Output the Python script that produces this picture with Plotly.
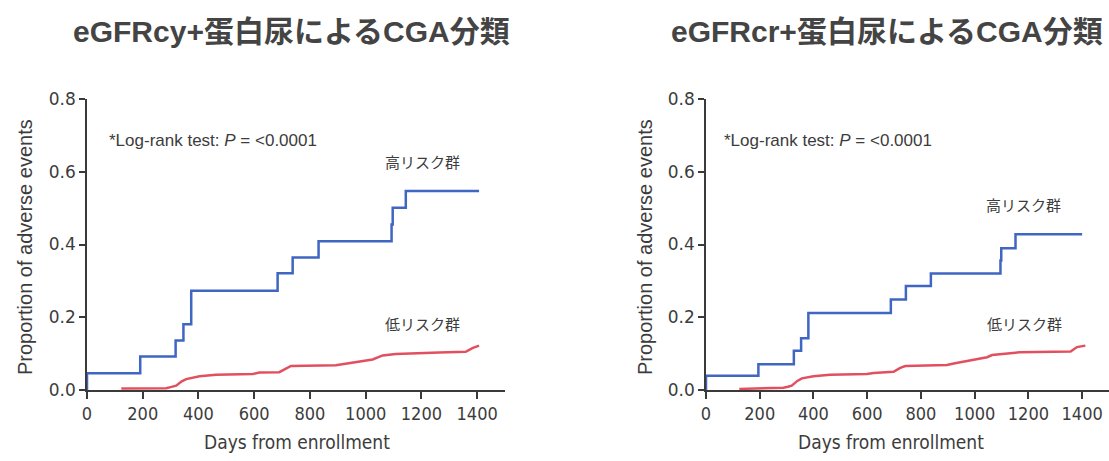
import plotly.graph_objects as go

W, H = 1109, 461

titles = ["eGFRcy+蛋白尿によるCGA分類", "eGFRcr+蛋白尿によるCGA分類"]
high_label = "高リスク群"
low_label = "低リスク群"
pval_text = "*Log-rank test: <i>P</i> = <0.0001"
x_title = "Days from enrollment"
y_title = "Proportion of adverse events"
x_ticks = [0, 200, 400, 600, 800, 1000, 1200, 1400]
y_ticks = [0.0, 0.2, 0.4, 0.6, 0.8]

# Left panel (eGFRcy)
cy_high_days = [0, 0, 191, 318, 346, 374, 684, 738, 831, 1093, 1097, 1144, 1407]
cy_high_vals = [0, 0.046, 0.092, 0.136, 0.181, 0.273, 0.321, 0.364, 0.409, 0.455, 0.501, 0.547, 0.547]
cy_low_days = [123, 284, 300, 320, 340, 356, 404, 463, 595, 619, 690, 714, 732, 893, 917, 977,
               1025, 1061, 1108, 1264, 1359, 1383, 1407]
cy_low_vals = [0.004, 0.005, 0.008, 0.012, 0.024, 0.030, 0.038, 0.042, 0.044, 0.048, 0.049, 0.058,
               0.066, 0.068, 0.071, 0.078, 0.084, 0.095, 0.099, 0.103, 0.105, 0.115, 0.122]

# Right panel (eGFRcr)
cr_high_days = [0, 0, 195, 327, 354, 381, 688, 744, 837, 1096, 1099, 1152, 1400]
cr_high_vals = [0, 0.039, 0.071, 0.108, 0.142, 0.212, 0.249, 0.286, 0.320, 0.356, 0.390, 0.428, 0.428]
cr_low_days = [124, 288, 305, 319, 340, 357, 400, 462, 599, 624, 698, 723, 742, 897, 922, 996,
               1046, 1065, 1108, 1170, 1357, 1381, 1412]
cr_low_vals = [0.003, 0.006, 0.009, 0.012, 0.025, 0.032, 0.038, 0.042, 0.044, 0.047, 0.050, 0.061,
               0.066, 0.069, 0.073, 0.083, 0.090, 0.096, 0.099, 0.104, 0.106, 0.118, 0.122]

BLUE = "#3f66c2"
RED = "#e2505f"
AX = "#3a3a3a"
TXT = "#3c3c3c"

fig = go.Figure()
panels = [
    ("x", "y", cy_high_days, cy_high_vals, cy_low_days, cy_low_vals),
    ("x2", "y2", cr_high_days, cr_high_vals, cr_low_days, cr_low_vals),
]
for xa, ya, hd, hv, ld, lv in panels:
    fig.add_trace(go.Scatter(x=ld, y=lv, mode="lines", xaxis=xa, yaxis=ya,
                             line=dict(color=RED, width=2.5, shape="linear"), showlegend=False))
    fig.add_trace(go.Scatter(x=hd, y=hv, mode="lines", xaxis=xa, yaxis=ya,
                             line=dict(color=BLUE, width=2.5, shape="hv"), showlegend=False))

xdoms = [[87 / W, 505 / W], [706 / W, 1.0]]
ydom = [1 - 390 / H, 1 - 99 / H]

axis_common = dict(showgrid=False, zeroline=False, showline=True, linecolor=AX, linewidth=1.5,
                   ticks="outside", tickcolor=AX, tickwidth=1.5, automargin=False)
for i, sfx in enumerate(["", "2"]):
    fig.update_layout(**{
        "xaxis" + sfx: dict(axis_common, domain=xdoms[i], range=[0, 1500], tickvals=x_ticks,
                            ticklen=7, anchor="y" + sfx,
                            tickfont=dict(family="DejaVu Sans Condensed, Liberation Sans Narrow, sans-serif",
                                          size=18, color=TXT)),
        "yaxis" + sfx: dict(axis_common, domain=ydom, range=[0, 0.8], tickvals=y_ticks,
                            tickformat=".1f", ticklen=6, anchor="x" + sfx,
                            tickfont=dict(family="DejaVu Sans, sans-serif", size=17, color=TXT)),
    })

ann = []
title_font = dict(family="Liberation Sans, Noto Sans CJK JP, sans-serif", size=30, color="#444444")
for i, t in enumerate(titles):
    cx = [291, 887][i]
    ann.append(dict(text="<b>" + t + "</b>", x=cx / W, y=1 - 32 / H, xref="paper", yref="paper",
                    showarrow=False, font=title_font, xanchor="center", yanchor="middle"))
    # axis titles
    ann.append(dict(text=x_title, x=[297, 891][i] / W, y=1 - 442 / H, xref="paper", yref="paper",
                    showarrow=False, xanchor="center", yanchor="middle",
                    font=dict(family="DejaVu Sans Condensed, Liberation Sans Narrow, sans-serif",
                              size=19, color=TXT)))
    ann.append(dict(text=y_title, x=[25, 645][i] / W, y=1 - 247 / H, xref="paper", yref="paper",
                    showarrow=False, xanchor="center", yanchor="middle", textangle=-90,
                    font=dict(family="Liberation Sans, Arial, sans-serif", size=20, color=TXT)))

sm = dict(family="Liberation Sans, Noto Sans CJK JP, sans-serif", size=17, color=TXT)
jp = dict(family="Noto Sans CJK JP, sans-serif", size=15, color=TXT)
# p-value text
ann.append(dict(text=pval_text, x=72, y=0.685, xref="x", yref="y", showarrow=False,
                xanchor="left", yanchor="middle", font=sm))
ann.append(dict(text=pval_text, x=59, y=0.685, xref="x2", yref="y2", showarrow=False,
                xanchor="left", yanchor="middle", font=sm))
# group labels
ann.append(dict(text=high_label, x=1203, y=0.629, xref="x", yref="y", showarrow=False, font=jp))
ann.append(dict(text=low_label, x=1203, y=0.184, xref="x", yref="y", showarrow=False, font=jp))
ann.append(dict(text=high_label, x=1181, y=0.509, xref="x2", yref="y2", showarrow=False, font=jp))
ann.append(dict(text=low_label, x=1185, y=0.184, xref="x2", yref="y2", showarrow=False, font=jp))

fig.update_layout(width=W, height=H, margin=dict(l=0, r=0, t=0, b=0),
                  paper_bgcolor="white", plot_bgcolor="white", annotations=ann)

fig.write_html("out.html", config={"displayModeBar": False},
               post_script="document.body.style.margin='0';document.body.style.padding='0';")
